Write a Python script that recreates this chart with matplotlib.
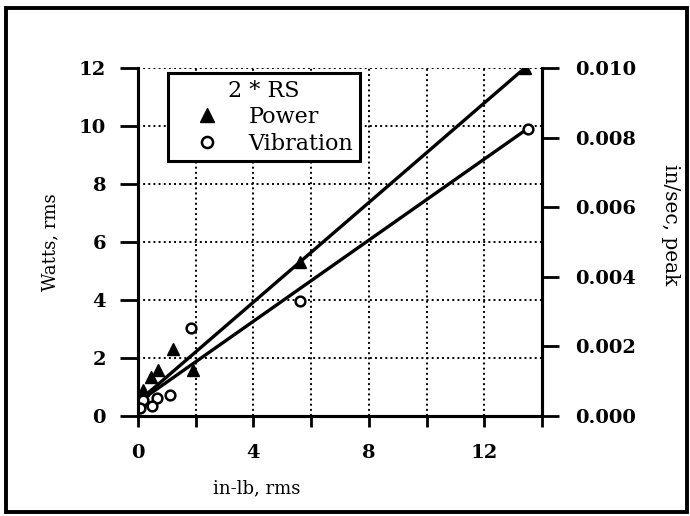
import numpy as np
import matplotlib.pyplot as plt
from matplotlib.patches import Rectangle
from matplotlib.lines import Line2D

# torque, in-lb rms
power_x = [13.4, 5.6, 1.9, 1.2, 0.7, 0.45, 0.17, 0.07]
power_y = [12.0, 5.3, 1.6, 2.3, 1.6, 1.35, 0.9, 0.55]   # Watts, rms

vib_x = [13.5, 5.6, 1.85, 1.1, 0.65, 0.48, 0.17, 0.07]
vib_y = [0.00825, 0.0033, 0.00253, 0.0006, 0.00052, 0.00028, 0.00046, 0.00023]  # in/sec, peak

# straight-line fits (end points)
fit_x = [0.0, 13.4]
power_fit = [0.49, 12.0]
vib_fit = [0.00039, 0.0082]

plt.rcParams['font.family'] = ['DejaVu Serif']

fig = plt.figure(figsize=(6.9, 5.16), dpi=100)
ax = fig.add_axes([0.2, 0.194, 0.5855, 0.674])
ax2 = ax.twinx()

ax.plot(fit_x, power_fit, 'k-', lw=2.4)
ax.plot(power_x, power_y, 'k^', ms=8)
ax2.plot(fit_x, vib_fit, 'k-', lw=2.4)
ax2.plot(vib_x, vib_y, 'o', mfc='white', mec='k', mew=1.8, ms=7)

ax.set_xlim(0, 14)
ax.set_ylim(0, 12)
ax2.set_ylim(0, 0.010)

ax.set_xticks([0, 4, 8, 12])
ax.set_xticks([2, 6, 10, 14], minor=True)
ax.set_yticks(np.arange(0, 13, 2))
ax2.set_yticks(np.arange(0, 0.0101, 0.002))
ax2.set_yticklabels(['%.3f' % v for v in np.arange(0, 0.0101, 0.002)])

ax.grid(True, which='both', axis='x', ls=':', color='k', lw=1.4)
ax.grid(True, which='major', axis='y', ls=':', color='k', lw=1.4)

for a in (ax, ax2):
    a.spines['top'].set_visible(False)
    for s in a.spines.values():
        s.set_linewidth(2.2)
ax.tick_params(axis='y', direction='out', length=13, width=2, labelsize=14, pad=10)
ax.tick_params(axis='x', which='both', direction='out', length=8, width=2, labelsize=14, pad=12)
ax2.tick_params(direction='out', length=12, width=2, labelsize=14, pad=12)
for lab in ax.get_xticklabels() + ax.get_yticklabels() + ax2.get_yticklabels():
    lab.set_fontweight('bold')

ax.set_xlabel('in-lb, rms', fontsize=13)
ax.xaxis.set_label_coords(0.295, -0.207)
ax.xaxis.label.set_verticalalignment('center')
ax.set_ylabel('Watts, rms', fontsize=13)
ax.yaxis.set_label_coords(-0.218, 0.5)
ax.yaxis.label.set_verticalalignment('center')
ax2.set_ylabel('in/sec, peak', fontsize=14.5, rotation=270)
ax2.yaxis.set_label_coords(1.317, 0.55)
ax2.yaxis.label.set_verticalalignment('center')

handles = [Line2D([], [], ls='', marker='^', color='k', ms=10),
           Line2D([], [], ls='', marker='o', mfc='white', mec='k', mew=1.8, ms=8)]
leg = ax2.legend(handles, ['Power', 'Vibration'], title='2 * RS', loc='upper left',
                 bbox_to_anchor=(0.074, 0.986), borderaxespad=0, fontsize=16,
                 title_fontsize=16, frameon=True, fancybox=False, edgecolor='k',
                 framealpha=1, handletextpad=0.43, borderpad=0.3, labelspacing=0.2,
                 handlelength=2.9)
leg.get_frame().set_linewidth(2.2)

fig.patches.append(Rectangle((0.008, 0.008), 0.988, 0.976, transform=fig.transFigure,
                             fill=False, ec='k', lw=2.8))

plt.savefig('out.png', dpi=100)
